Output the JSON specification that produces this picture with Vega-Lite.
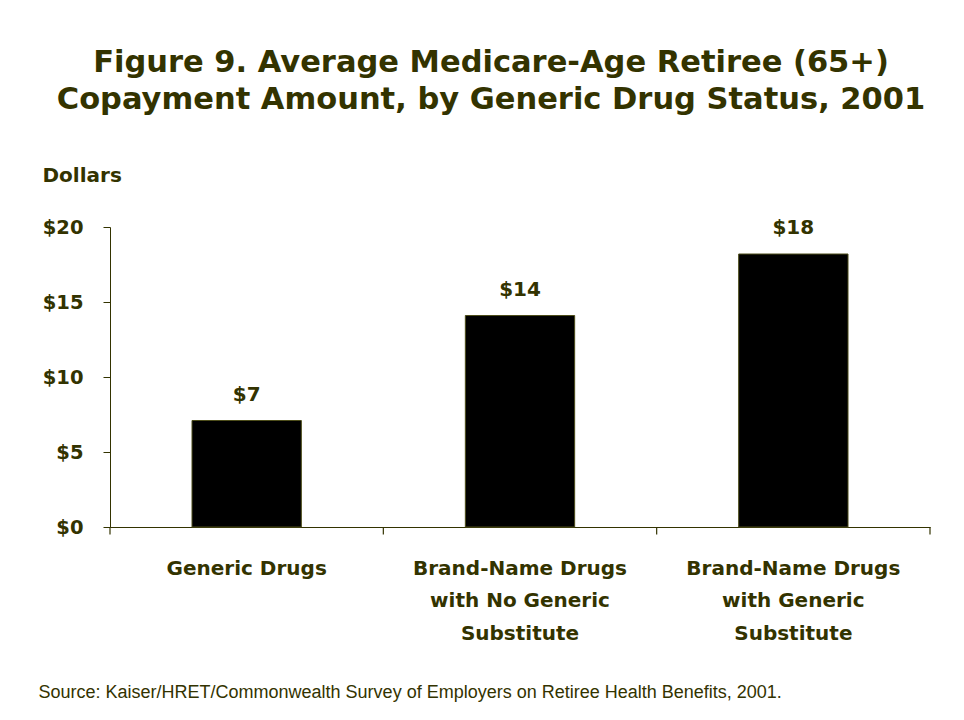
{
  "$schema": "https://vega.github.io/schema/vega-lite/v6.json",
  "autosize": {"type": "none"},
  "padding": {"left": 110, "top": 227, "right": 34, "bottom": 193},
  "width": 820,
  "height": 300,
  "background": "white",
  "title": {
    "text": ["Figure 9. Average Medicare-Age Retiree (65+)", "Copayment Amount, by Generic Drug Status, 2001"],
    "font": "DejaVu Sans",
    "fontSize": 30.5,
    "fontWeight": "bold",
    "color": "#333300",
    "anchor": "middle",
    "frame": "group",
    "lineHeight": 37,
    "dx": -29,
    "offset": 49.5
  },
  "layer": [
    {
      "data": {
        "values": [
          {"category": "Generic Drugs", "value": 7.1, "label": "$7"},
          {"category": "Brand-Name Drugs with No Generic Substitute", "value": 14.1, "label": "$14"},
          {"category": "Brand-Name Drugs with Generic Substitute", "value": 18.2, "label": "$18"}
        ]
      },
      "encoding": {
        "x": {
          "field": "category",
          "type": "nominal",
          "sort": null,
          "scale": {"paddingInner": 0.6, "paddingOuter": 0.3},
          "axis": {
            "title": "Source: Kaiser/HRET/Commonwealth Survey of Employers on Retiree Health Benefits, 2001.",
            "titleFont": "Liberation Sans",
            "titleFontSize": 18,
            "titleFontWeight": "normal",
            "titleColor": "#333300",
            "titleAnchor": "start",
            "titleAlign": "left",
            "titleBaseline": "alphabetic",
            "titleX": -72,
            "titleY": 170,
            "labelAngle": 0,
            "labelFont": "DejaVu Sans",
            "labelFontSize": 20,
            "labelFontWeight": "bold",
            "labelColor": "#333300",
            "labelBaseline": "top",
            "labelLineHeight": 32.5,
            "labelPadding": 31,
            "labelLimit": 0,
            "labelExpr": "datum.value == 'Generic Drugs' ? 'Generic Drugs' : (datum.value == 'Brand-Name Drugs with No Generic Substitute' ? ['Brand-Name Drugs', 'with No Generic', 'Substitute'] : ['Brand-Name Drugs', 'with Generic', 'Substitute'])",
            "ticks": false,
            "domainColor": "#333300",
            "grid": false
          }
        },
        "y": {
          "field": "value",
          "type": "quantitative",
          "scale": {"domain": [0, 20], "nice": false},
          "axis": {
            "title": "Dollars",
            "titleAngle": 0,
            "titleAlign": "left",
            "titleBaseline": "alphabetic",
            "titleX": -68,
            "titleY": -46,
            "titleFont": "DejaVu Sans",
            "titleFontSize": 20,
            "titleFontWeight": "bold",
            "titleColor": "#333300",
            "values": [0, 5, 10, 15, 20],
            "labelExpr": "'$' + datum.value",
            "labelFont": "DejaVu Sans",
            "labelFontSize": 19.5,
            "labelFontWeight": "bold",
            "labelColor": "#333300",
            "labelPadding": 20,
            "tickSize": 7,
            "tickColor": "#333300",
            "domainColor": "#333300",
            "grid": false
          }
        }
      },
      "layer": [
        {"mark": {"type": "bar", "color": "black", "stroke": "#4d4d1a", "strokeWidth": 1}},
        {
          "mark": {"type": "text", "font": "DejaVu Sans", "fontSize": 20, "fontWeight": "bold", "color": "#333300", "baseline": "alphabetic", "dy": -20},
          "encoding": {"text": {"field": "label"}}
        }
      ]
    },
    {
      "data": {"values": [{"boundary": 0}, {"boundary": 1}, {"boundary": 2}, {"boundary": 3}]},
      "mark": {"type": "rule", "color": "#333300", "strokeWidth": 1.2},
      "encoding": {
        "x": {"field": "boundary", "type": "quantitative", "scale": {"domain": [0, 3], "nice": false, "zero": false}, "axis": null},
        "y": {"datum": 0},
        "y2": {"datum": -0.5}
      }
    }
  ],
  "resolve": {"scale": {"x": "independent"}, "axis": {"x": "independent"}},
  "config": {"view": {"stroke": null}}
}
